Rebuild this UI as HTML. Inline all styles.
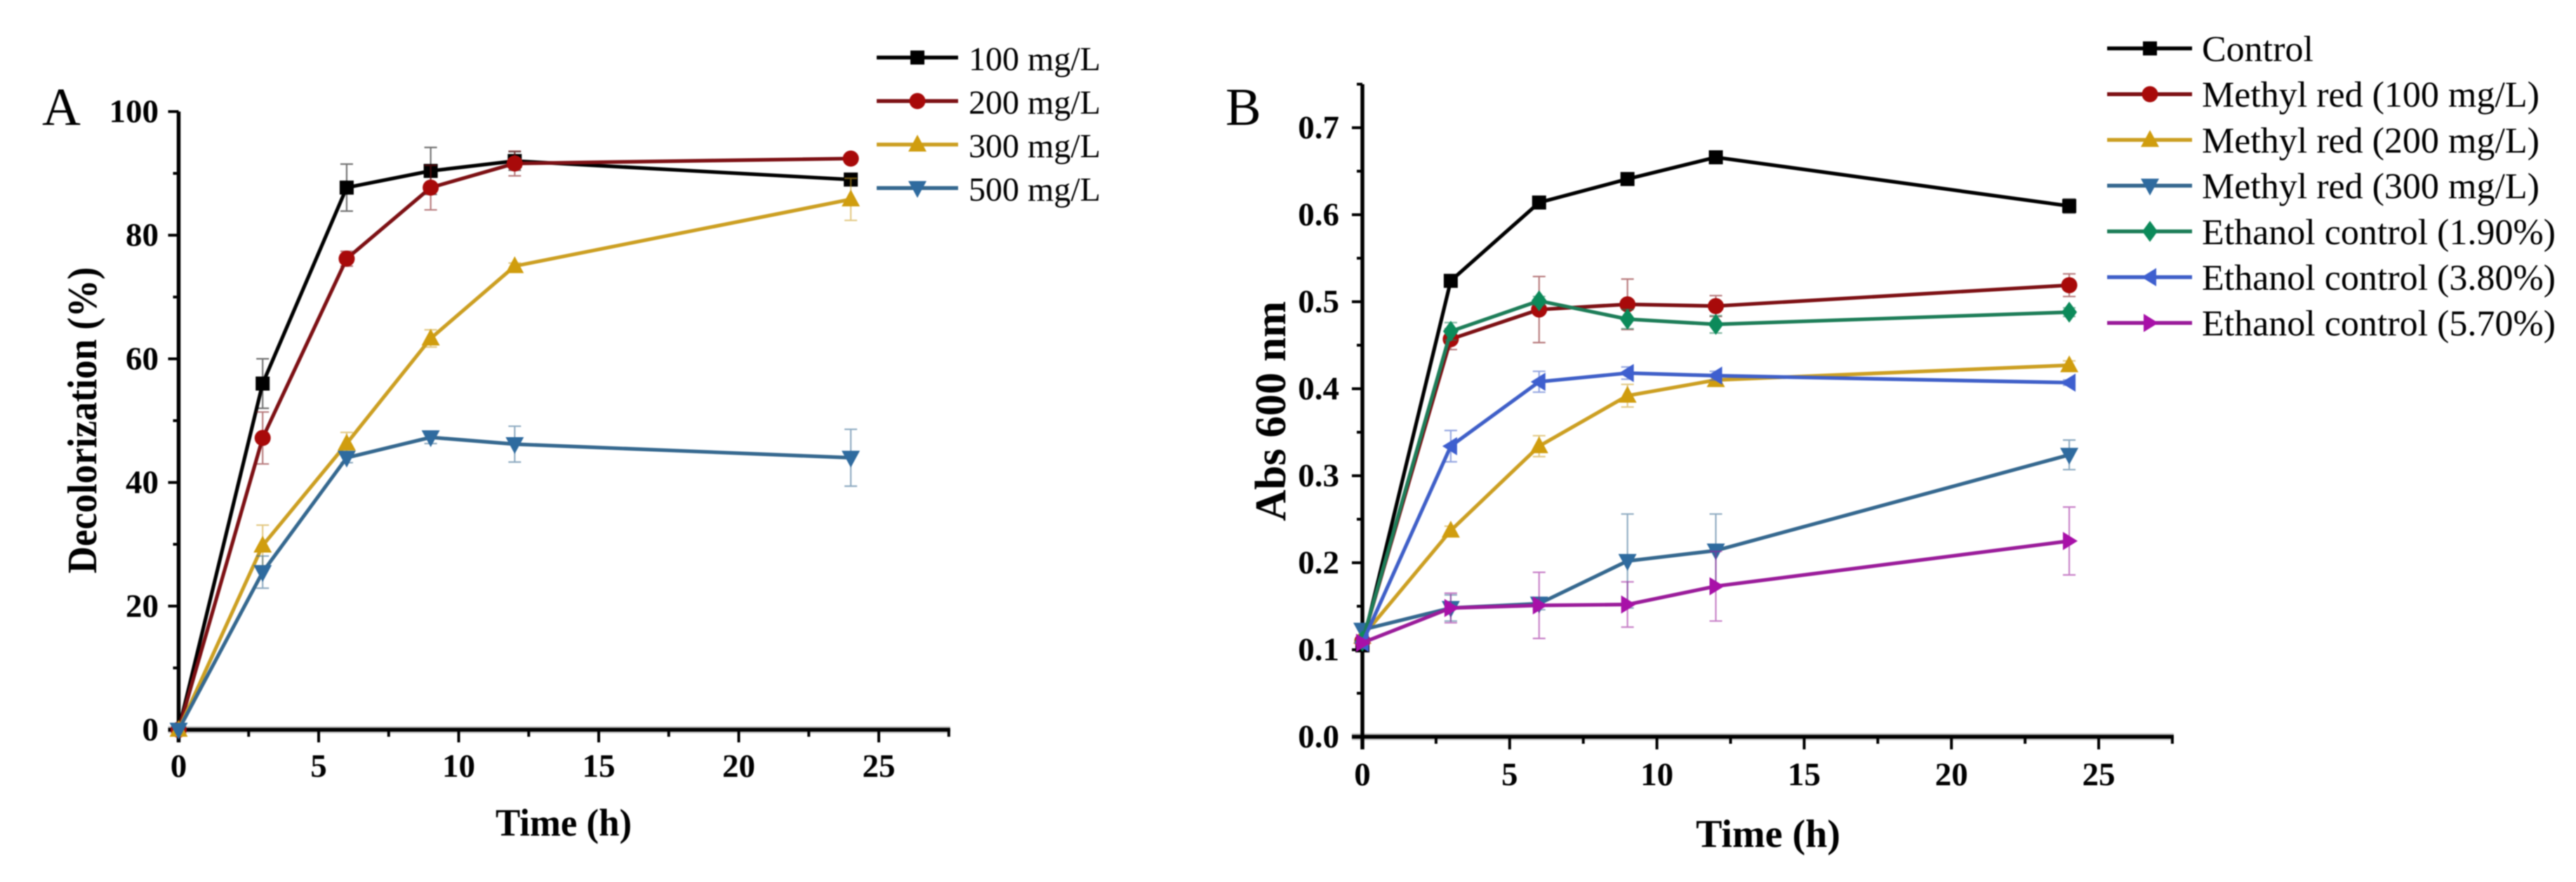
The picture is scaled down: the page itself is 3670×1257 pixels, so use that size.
<!DOCTYPE html>
<html lang="en">
<head>
<meta charset="utf-8">
<title>Decolorization and Abs 600 nm over time</title>
<style>
html,body{margin:0;padding:0;background:#fff;}
#figure{display:block;width:3670px;height:1257px;filter:blur(0.9px);}
text{font-family:"Liberation Serif",serif;fill:#000;}
</style>
</head>
<body>
<svg id="figure" xmlns="http://www.w3.org/2000/svg" width="3670" height="1257" viewBox="0 0 3670 1257"></svg>
<script>
// ---------- Panel A data ----------
const aTimes = [0, 3, 6, 9, 12, 24];
const aNames = ["100 mg/L", "200 mg/L", "300 mg/L", "500 mg/L"];
const a100 = [0, 56, 87.7, 90.4, 92, 89];
const a200 = [0, 47.2, 76.2, 87.7, 91.6, 92.4];
const a300 = [0, 29.8, 46.3, 63.3, 75, 85.8];
const a500 = [0, 25.5, 44, 47.3, 46.2, 44];
const a100Err = [0, 4, 3.8, 3.8, 1.5, 0.7];
const a200Err = [0, 4.2, 1.2, 3.6, 2, 0.5];
const a300Err = [0, 3.3, 1.8, 1.4, 0.5, 3.4];
const a500Err = [0, 2.6, 0.8, 1, 2.9, 4.6];
const aXTicks = [0, 5, 10, 15, 20, 25];
const aYTicks = [0, 20, 40, 60, 80, 100];

// ---------- Panel B data ----------
const bTimes = [0, 3, 6, 9, 12, 24];
const bNames = ["Control", "Methyl red (100 mg/L)", "Methyl red (200 mg/L)", "Methyl red (300 mg/L)", "Ethanol control (1.90%)", "Ethanol control (3.80%)", "Ethanol control (5.70%)"];
const bControl = [0.105, 0.524, 0.614, 0.641, 0.666, 0.61];
const bMr100 = [0.11, 0.457, 0.491, 0.497, 0.495, 0.519];
const bMr200 = [0.115, 0.237, 0.334, 0.392, 0.41, 0.427];
const bMr300 = [0.123, 0.148, 0.153, 0.202, 0.214, 0.324];
const bEth19 = [0.11, 0.466, 0.501, 0.48, 0.474, 0.488];
const bEth38 = [0.108, 0.334, 0.408, 0.418, 0.415, 0.407];
const bEth57 = [0.108, 0.148, 0.151, 0.152, 0.173, 0.225];
const bControlErr = [0, 0.003, 0.006, 0.003, 0.003, 0.008];
const bMr100Err = [0, 0.012, 0.038, 0.029, 0.012, 0.013];
const bMr200Err = [0, 0.005, 0.012, 0.013, 0.004, 0.005];
const bMr300Err = [0, 0.015, 0.007, 0.054, 0.042, 0.017];
const bEth19Err = [0, 0.01, 0.005, 0.011, 0.01, 0.005];
const bEth38Err = [0, 0.018, 0.012, 0.007, 0.005, 0.003];
const bEth57Err = [0, 0.017, 0.038, 0.026, 0.04, 0.039];
const bXTicks = [0, 5, 10, 15, 20, 25];
const bYTicks = [0, 0.1, 0.2, 0.3, 0.4, 0.5, 0.6, 0.7];

// ---------- Styling ----------
const NS = "http://www.w3.org/2000/svg";
const svg = document.getElementById("figure");
const COLORS = {black:"#000000", red:"#a80a0a", gold:"#d09d0e", steel:"#2f6b9f", green:"#0c8a5a", blue:"#3e5fcf", magenta:"#a810a8"};
const LINES = {black:"#000000", red:"#7d1014", gold:"#cc9f22", steel:"#35688f", green:"#1d7d58", blue:"#3f5fc8", magenta:"#9a1c9a"};

function make(tag, attrs, parent) {
  const n = document.createElementNS(NS, tag);
  for (const k in attrs) n.setAttribute(k, attrs[k]);
  (parent || svg).appendChild(n);
  return n;
}

function addMarker(kind, x, y, fill, parent) {
  let n;
  if (kind === "square") n = make("rect", {x: x - 10, y: y - 10, width: 20, height: 20, fill: fill}, parent);
  else if (kind === "circle") n = make("circle", {cx: x, cy: y, r: 11.5, fill: fill}, parent);
  else {
    let pts;
    if (kind === "up") pts = [[0,-14],[13,10],[-13,10]];
    else if (kind === "down") pts = [[0,14],[13,-10],[-13,-10]];
    else if (kind === "left") pts = [[-12,0],[9,-13],[9,13]];
    else if (kind === "right") pts = [[12,0],[-9,-13],[-9,13]];
    else pts = [[0,-15],[11,0],[0,15],[-11,0]];
    n = make("polygon", {points: pts.map(p => (x + p[0]) + "," + (y + p[1])).join(" "), fill: fill}, parent);
  }
  return n;
}

function drawAxes(prefix, ax) {
  const g = make("g", {});
  
  
  const black = {stroke: "#000", "stroke-width": 4};
  // x axis
  make("line", {x1: ax.x(0) - 15, y1: ax.y0px, x2: ax.x(ax.xMax) + 2, y2: ax.y0px, stroke: "#999", "stroke-width": 10, "stroke-opacity": .55}, g);
  make("line", {x1: ax.x(0) - 15, y1: ax.y0px, x2: ax.x(ax.xMax) + 2, y2: ax.y0px, stroke: "#000", "stroke-width": 5.5}, g);
  // y axis
  make("line", {x1: ax.x(0), y1: ax.y0px + 18, x2: ax.x(0), y2: ax.y(ax.yMax), stroke: "#000", "stroke-width": 5.5}, g);
  // x ticks
  for (let v = 0; v <= ax.xMax + 0.01; v += 2.5) {
    const major = Math.abs(v % 5) < 0.01;
    make("line", Object.assign({x1: ax.x(v), y1: ax.y0px, x2: ax.x(v), y2: ax.y0px + (major ? 18 : 10)}, black), g);
  }
  // y ticks
  const n = Math.round(ax.yMax / ax.yMinorStep);
  for (let i = 0; i <= n; i++) {
    const v = i * ax.yMinorStep;
    const major = i % 2 === 0;
    make("line", Object.assign({x1: ax.x(0), y1: ax.y(v), x2: ax.x(0) - (major ? 15 : 8), y2: ax.y(v)}, black), g);
  }
}

function drawTickLabels(prefix, ax, xTicks, yTicks, yDigits) {
  xTicks.forEach(function (v) {
    const t = make("text", {x: ax.x(v), y: ax.xLabelY, "text-anchor": "middle", "font-size": 47, "font-weight": "bold"});
    t.textContent = String(v);
    
    
  });
  yTicks.forEach(function (v) {
    const t = make("text", {x: ax.yLabelX, y: ax.y(v) + 15, "text-anchor": "end", "font-size": 47, "font-weight": "bold"});
    t.textContent = v.toFixed(yDigits);
    
    
  });
}

function drawSeries(prefix, ax, times, series) {
  series.forEach(function (s) {
    const g = make("g", {});
    
    
    // error bars
    times.forEach(function (t, i) {
      if (!s.err[i]) return;
      const x = ax.x(t), hi = ax.y(s.values[i] + s.err[i]), lo = ax.y(s.values[i] - s.err[i]);
      const e = make("path", {d: "M" + x + " " + hi + "V" + lo + "M" + (x - 9) + " " + hi + "H" + (x + 9) + "M" + (x - 9) + " " + lo + "H" + (x + 9),
        fill: "none", stroke: s.line, "stroke-width": 2.2, "stroke-opacity": .55}, g);
      
      
    });
    // line
    const pts = times.map((t, i) => ax.x(t) + "," + ax.y(s.values[i])).join(" ");
    const pl = make("polyline", {points: pts, fill: "none", stroke: s.line, "stroke-width": 5.2, "stroke-linejoin": "round"}, g);
    
    
    // markers
    times.forEach(function (t, i) {
      const m = addMarker(s.marker, ax.x(t), ax.y(s.values[i]), s.fill, g);
      
      
    });
  });
}

function drawLegend(prefix, series, names, lg) {
  series.forEach(function (s, i) {
    const y = lg.y + i * lg.step;
    const g = make("g", {});
    
    
    make("line", {x1: lg.x1, y1: y, x2: lg.x2, y2: y, stroke: s.line, "stroke-width": 5.5}, g);
    addMarker(s.marker, lg.mx, y, s.fill, g);
    const t = make("text", {x: lg.tx, y: y + lg.base, "font-size": lg.fs}, g);
    t.textContent = names[i];
  });
}

function addText(name, str, attrs) {
  const t = make("text", attrs);
  t.textContent = str;
  
  
}

// ---------- Panel A ----------
const axA = {
  x: v => 254.5 + v * 39.9,
  y: v => 1040 - v * 8.81,
  y0px: 1040, xMax: 27.5, yMax: 100, yMinorStep: 10, xLabelY: 1107, yLabelX: 226
};
const seriesA = [
  {key: "100", values: a100, err: a100Err, marker: "square", fill: COLORS.black, line: LINES.black},
  {key: "200", values: a200, err: a200Err, marker: "circle", fill: COLORS.red, line: LINES.red},
  {key: "300", values: a300, err: a300Err, marker: "up", fill: COLORS.gold, line: LINES.gold},
  {key: "500", values: a500, err: a500Err, marker: "down", fill: COLORS.steel, line: LINES.steel}
];
drawAxes("a", axA);
drawTickLabels("a", axA, aXTicks, aYTicks, 0);
drawSeries("a", axA, aTimes, seriesA);
drawLegend("a", seriesA, aNames, {x1: 1249, x2: 1365, mx: 1307, y: 82, step: 62, tx: 1380, base: 18, fs: 48});
addText("panel-a-label", "A", {x: 60, y: 178, "font-size": 76});
addText("a-y-axis-title", "Decolorization (%)", {transform: "translate(137,599) rotate(-90) scale(0.91,1)", "text-anchor": "middle", "font-size": 59, "font-weight": "bold"});
addText("a-x-axis-title", "Time (h)", {transform: "translate(803,1191) scale(0.96,1)", "text-anchor": "middle", "font-size": 55, "font-weight": "bold"});

// ---------- Panel B ----------
const axB = {
  x: v => 1941 + v * 41.96,
  y: v => 1050 - v * 1240,
  y0px: 1050, xMax: 27.5, yMax: 0.75, yMinorStep: 0.05, xLabelY: 1119, yLabelX: 1908
};
const seriesB = [
  {key: "control", values: bControl, err: bControlErr, marker: "square", fill: COLORS.black, line: LINES.black},
  {key: "methyl-red-100", values: bMr100, err: bMr100Err, marker: "circle", fill: COLORS.red, line: LINES.red},
  {key: "methyl-red-200", values: bMr200, err: bMr200Err, marker: "up", fill: COLORS.gold, line: LINES.gold},
  {key: "methyl-red-300", values: bMr300, err: bMr300Err, marker: "down", fill: COLORS.steel, line: LINES.steel},
  {key: "ethanol-1-90", values: bEth19, err: bEth19Err, marker: "diamond", fill: COLORS.green, line: LINES.green},
  {key: "ethanol-3-80", values: bEth38, err: bEth38Err, marker: "left", fill: COLORS.blue, line: LINES.blue},
  {key: "ethanol-5-70", values: bEth57, err: bEth57Err, marker: "right", fill: COLORS.magenta, line: LINES.magenta}
];
drawAxes("b", axB);
drawTickLabels("b", axB, bXTicks, bYTicks, 1);
drawSeries("b", axB, bTimes, seriesB);
drawLegend("b", seriesB, bNames, {x1: 3002, x2: 3123, mx: 3063, y: 69, step: 65.2, tx: 3137, base: 18, fs: 52});
addText("panel-b-label", "B", {x: 1746, y: 178, "font-size": 76});
addText("b-y-axis-title", "Abs 600 nm", {transform: "translate(1831,586) rotate(-90)", "text-anchor": "middle", "font-size": 62, "font-weight": "bold"});
addText("b-x-axis-title", "Time (h)", {transform: "translate(2519,1207)", "text-anchor": "middle", "font-size": 56, "font-weight": "bold"});
</script>
</body>
</html>
